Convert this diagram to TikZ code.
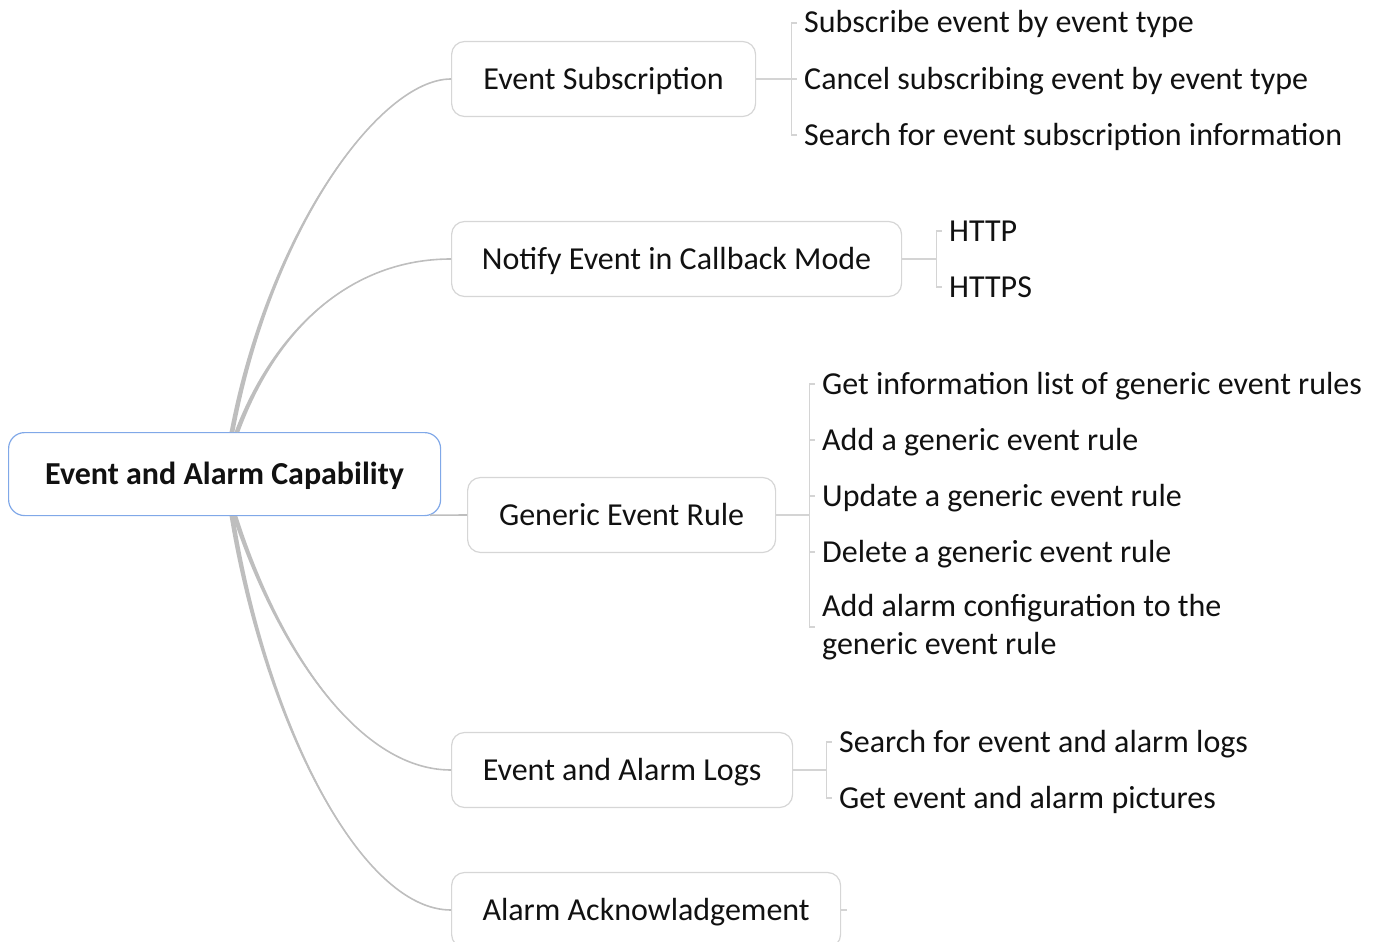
\documentclass[tikz,border=0pt]{standalone}
\usepackage{fontspec}
\setmainfont{Carlito}
\usetikzlibrary{calc}
\definecolor{boxline}{HTML}{D6D6D6}
\definecolor{rootline}{HTML}{80A8E8}
\definecolor{branch}{HTML}{BEBEBE}
\definecolor{leafline}{HTML}{D4D4D4}
\definecolor{txt}{HTML}{111111}
\newcommand\taperlink[4]{%
  \fill[branch] ($(#1)+(-2.4,0)$) .. controls ($(#2)+(-1.8,0)$) and (#3) .. (#4)
     .. controls (#3) and ($(#2)+(1.8,0)$) .. ($(#1)+(2.4,0)$) -- cycle;
  \draw[branchline] (#1) .. controls (#2) and (#3) .. (#4);}
\begin{document}
\begin{tikzpicture}[x=1pt,y=-1pt,
  font=\fontsize{32}{38}\selectfont, text=txt,
  rootbox/.style={draw=rootline, line width=1.2pt, rounded corners=16pt, fill=white,
    minimum width=432pt, minimum height=83pt, anchor=north west, inner sep=0pt,
    text height=24pt, text depth=4pt, font=\fontsize{32}{38}\selectfont\bfseries},
  childbox/.style={draw=boxline, line width=1.2pt, rounded corners=13pt, fill=white,
    minimum height=75pt, anchor=west, inner sep=0pt, text height=24pt, text depth=4pt},
  leaf/.style={anchor=west, inner xsep=7pt, inner ysep=0pt, text height=24pt, text depth=4pt},
  leafmulti/.style={anchor=west, inner xsep=7pt, inner ysep=0pt, align=left},
  branchline/.style={draw=branch, line width=1.6pt},
  bracket/.style={draw=leafline, line width=1.1pt}]
\useasboundingbox (0,0) rectangle (1379,942);

% root and main topics
\node[rootbox] (root) at (8,432) {Event and Alarm Capability};
\node[childbox, minimum width=304pt] (es)  at (451,79)  {Event Subscription};
\node[childbox, minimum width=450pt] (nt)  at (451,259) {Notify Event in Callback Mode};
\node[childbox, minimum width=308pt] (ger) at (467,515) {Generic Event Rule};
\node[childbox, minimum width=341pt] (log) at (451,770) {Event and Alarm Logs};
\node[childbox, minimum width=389pt] (ack) at (451,910) {Alarm Acknowladgement};

% leaves
\node[leaf] (es1) at (797,23)  {Subscribe event by event type};
\node[leaf] (es2) at (797,79)  {Cancel subscribing event by event type};
\node[leaf] (es3) at (797,135) {Search for event subscription information};

\node[leaf] (nt1) at (942,231) {HTTP};
\node[leaf] (nt2) at (942,287) {HTTPS};

\node[leaf] (g1) at (815,384) {Get information list of generic event rules};
\node[leaf] (g2) at (815,440) {Add a generic event rule};
\node[leaf] (g3) at (815,496) {Update a generic event rule};
\node[leaf] (g4) at (815,552) {Delete a generic event rule};
\node[leafmulti] (g5) at (815,627) {Add alarm configuration to the\\generic event rule};

\node[leaf] (l1) at (832,742) {Search for event and alarm logs};
\node[leaf] (l2) at (832,798) {Get event and alarm pictures};

% branches from root
\coordinate (rt1) at ($(root.north west)+(224,0)$);
\coordinate (rt2) at ($(root.north west)+(229,0)$);
\coordinate (rb1) at ($(root.south west)+(227,0)$);
\coordinate (rb2) at ($(root.south west)+(224,0)$);
\taperlink{rt1}{270,230}{380,79}{es.west}
\taperlink{rt2}{275,330}{350,259}{nt.west}
\taperlink{rb1}{275,640}{355,770}{log.west}
\taperlink{rb2}{265,720}{360,910}{ack.west}
\draw[branchline] ($(root.south east)+(-11,-1)$) -- (ger.west);

% brackets
\draw[bracket] (es.east) -- ++(35,0) coordinate (esb);
\draw[bracket] (esb |- es1.west) -- (esb |- es3.west);
\foreach \l in {es1,es2,es3} \draw[bracket] (esb |- \l.west) -- (\l.west);

\draw[bracket] (nt.east) -- ++(34,0) coordinate (ntb);
\draw[bracket] (ntb |- nt1.west) -- (ntb |- nt2.west);
\foreach \l in {nt1,nt2} \draw[bracket] (ntb |- \l.west) -- (\l.west);

\draw[bracket] (ger.east) -- ++(33,0) coordinate (gb);
\draw[bracket] (gb |- g1.west) -- (gb |- g5.west);
\foreach \l in {g1,g2,g3,g4,g5} \draw[bracket] (gb |- \l.west) -- (\l.west);

\draw[bracket] (log.east) -- ++(33,0) coordinate (lb);
\draw[bracket] (lb |- l1.west) -- (lb |- l2.west);
\foreach \l in {l1,l2} \draw[bracket] (lb |- \l.west) -- (\l.west);

\draw[bracket] (ack.east) -- ++(6,0);
\end{tikzpicture}
\end{document}
